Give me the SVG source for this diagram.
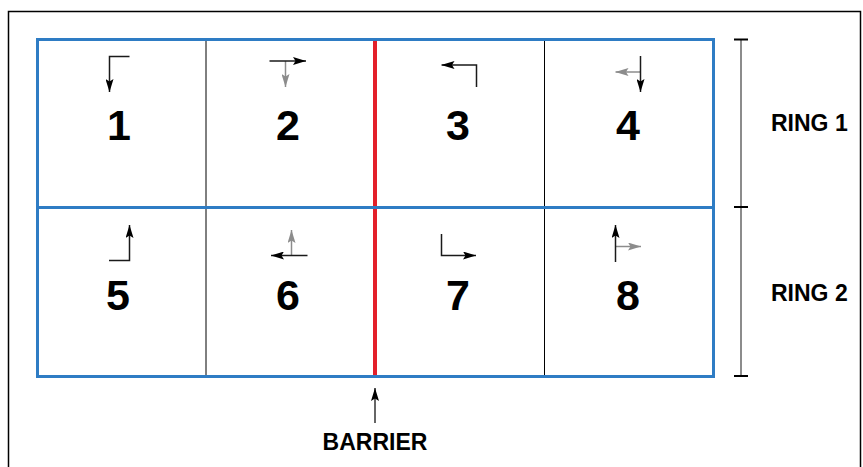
<svg xmlns="http://www.w3.org/2000/svg" width="863" height="467" viewBox="0 0 863 467">
<defs>
<marker id="ab" viewBox="0 0 13 8" refX="13" refY="4" markerWidth="13" markerHeight="8" markerUnits="userSpaceOnUse" orient="auto">
<path d="M0,0 L13,4 L0,8 L2.5,4 Z" fill="#000"/>
</marker>
<marker id="ag" viewBox="0 0 13 8" refX="13" refY="4" markerWidth="13" markerHeight="8" markerUnits="userSpaceOnUse" orient="auto">
<path d="M0,0 L13,4 L0,8 L2.5,4 Z" fill="#8c8c8c"/>
</marker>
</defs>
<style>
.num{font-family:"Liberation Sans",Arial,sans-serif;font-weight:bold;font-size:43px;fill:#000;text-anchor:middle}
.lbl{font-family:"Liberation Sans",Arial,sans-serif;font-weight:bold;font-size:23px;fill:#000}
.blk{fill:none;stroke:#1a1a1a;stroke-width:1.5;marker-end:url(#ab)}
.gry{fill:none;stroke:#8c8c8c;stroke-width:1.5;marker-end:url(#ag)}
.div{stroke:#000;stroke-width:1}
.cap{stroke:#000;stroke-width:2}
</style>
<rect width="863" height="467" fill="#fff"/>
<rect x="8.5" y="11.5" width="852" height="470" fill="none" stroke="#000" stroke-width="1.5"/>

<g id="grid">
<line class="div" x1="206" y1="39" x2="206" y2="376"/>
<line class="div" x1="544.5" y1="39" x2="544.5" y2="376"/>
<line x1="375" y1="39" x2="375" y2="376" stroke="#e3202a" stroke-width="4"/>
<line x1="37" y1="207.5" x2="714" y2="207.5" stroke="#2e7cc4" stroke-width="3"/>
<rect x="37.5" y="39.5" width="676" height="337" fill="none" stroke="#2e7cc4" stroke-width="3"/>
</g>

<g id="cell1">
<path class="blk" d="M129.5,56.5 H109.5 V92"/>
<text class="num" x="119" y="140">1</text>
</g>
<g id="cell2">
<path class="gry" d="M285.5,61 V87"/>
<path class="blk" d="M269.5,61 H306"/>
<text class="num" x="288" y="140">2</text>
</g>
<g id="cell3">
<path class="blk" d="M476.5,87 V65 H441.5"/>
<text class="num" x="458" y="140">3</text>
</g>
<g id="cell4">
<path class="gry" d="M640.5,72 H615.5"/>
<path class="blk" d="M640.5,56 V92"/>
<text class="num" x="628" y="140">4</text>
</g>
<g id="cell5">
<path class="blk" d="M109,260.5 H129.5 V225"/>
<text class="num" x="118" y="310">5</text>
</g>
<g id="cell6">
<path class="gry" d="M291.5,255.5 V230"/>
<path class="blk" d="M307.5,255.5 H271"/>
<text class="num" x="288" y="310">6</text>
</g>
<g id="cell7">
<path class="blk" d="M441.5,234 V255.5 H476"/>
<text class="num" x="458" y="310">7</text>
</g>
<g id="cell8">
<path class="gry" d="M615.5,246.5 H641"/>
<path class="blk" d="M615.5,262 V225"/>
<text class="num" x="628" y="310">8</text>
</g>

<g id="ring-bracket">
<line x1="741" y1="39" x2="741" y2="376" stroke="#666" stroke-width="1.5"/>
<line class="cap" x1="734" y1="39.5" x2="748" y2="39.5"/>
<line class="cap" x1="734" y1="207" x2="748" y2="207"/>
<line class="cap" x1="734" y1="376" x2="748" y2="376"/>
</g>
<g id="ring1"><text class="lbl" x="771" y="131" font-size="24">RING 1</text></g>
<g id="ring2"><text class="lbl" x="771" y="301" font-size="24">RING 2</text></g>

<g id="connectors">
<path class="blk" d="M375,423 V388" style="stroke:#333"/>
</g>
<g id="barrier"><text class="lbl" x="375" y="450" text-anchor="middle">BARRIER</text></g>
</svg>
